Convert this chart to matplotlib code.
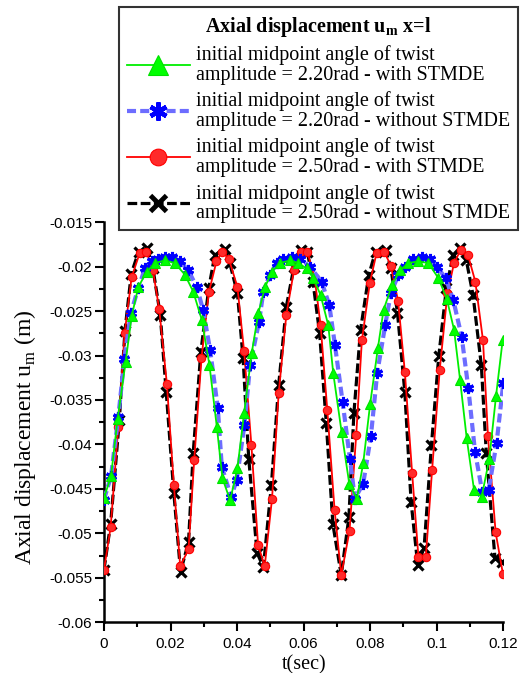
import matplotlib
matplotlib.use("Agg")
import matplotlib.pyplot as plt
from matplotlib.ticker import MultipleLocator, FuncFormatter

plt.rcParams['font.family'] = ['Liberation Serif', 'DejaVu Serif']
plt.rcParams['mathtext.fontset'] = 'custom'
plt.rcParams['mathtext.rm'] = 'Liberation Serif'
plt.rcParams['mathtext.bf'] = 'Liberation Serif:bold'
plt.rcParams['axes.unicode_minus'] = False
plt.rcParams['lines.scale_dashes'] = False

# values: t in sec, axial displacement u_m in m
# 2.20rad - with STMDE
t_g = [0.0000, 0.0021, 0.0041, 0.0065, 0.0083, 0.0103, 0.0128, 0.0153, 0.0183,
       0.0213, 0.0243, 0.0268, 0.0294, 0.0317, 0.0339, 0.0356, 0.0379, 0.0401,
       0.0421, 0.0444, 0.0464, 0.0484, 0.0504, 0.0529, 0.0559, 0.0584, 0.0609,
       0.0629, 0.0651, 0.0674, 0.0689, 0.0714, 0.0737, 0.0760, 0.0779, 0.0800,
       0.0823, 0.0840, 0.0865, 0.0890, 0.0915, 0.0945, 0.0975, 0.1005, 0.1030,
       0.1052, 0.1070, 0.1090, 0.1112, 0.1135, 0.1158, 0.1178, 0.1198]
u_g = [-0.0460, -0.0436, -0.0371, -0.0307, -0.0256, -0.0223, -0.0206, -0.0196, -0.0193,
       -0.0196, -0.0209, -0.0228, -0.0260, -0.0311, -0.0380, -0.0438, -0.0463, -0.0427,
       -0.0365, -0.0297, -0.0252, -0.0223, -0.0206, -0.0196, -0.0193, -0.0196, -0.0202,
       -0.0213, -0.0232, -0.0266, -0.0320, -0.0386, -0.0444, -0.0461, -0.0421, -0.0354,
       -0.0292, -0.0249, -0.0221, -0.0204, -0.0196, -0.0194, -0.0196, -0.0213, -0.0236,
       -0.0271, -0.0327, -0.0393, -0.0451, -0.0459, -0.0416, -0.0346, -0.0283]

# 2.20rad - without STMDE
t_b = [0.0000, 0.0021, 0.0043, 0.0061, 0.0081, 0.0103, 0.0123, 0.0143, 0.0163,
       0.0183, 0.0205, 0.0228, 0.0253, 0.0279, 0.0298, 0.0319, 0.0342, 0.0354,
       0.0382, 0.0399, 0.0422, 0.0439, 0.0466, 0.0479, 0.0499, 0.0519, 0.0539,
       0.0564, 0.0589, 0.0619, 0.0654, 0.0677, 0.0694, 0.0717, 0.0739, 0.0754,
       0.0779, 0.0802, 0.0821, 0.0845, 0.0862, 0.0885, 0.0905, 0.0930, 0.0955,
       0.0980, 0.1000, 0.1027, 0.1050, 0.1075, 0.1095, 0.1115, 0.1137, 0.1156,
       0.1180, 0.1200]
u_b = [-0.0462, -0.0436, -0.0369, -0.0304, -0.0252, -0.0224, -0.0202, -0.0194, -0.0191,
       -0.0189, -0.0189, -0.0194, -0.0204, -0.0223, -0.0249, -0.0294, -0.0359, -0.0425,
       -0.0459, -0.0440, -0.0378, -0.0311, -0.0262, -0.0228, -0.0209, -0.0196, -0.0191,
       -0.0189, -0.0191, -0.0200, -0.0217, -0.0243, -0.0288, -0.0352, -0.0416, -0.0461,
       -0.0444, -0.0391, -0.0320, -0.0266, -0.0230, -0.0209, -0.0200, -0.0191, -0.0189,
       -0.0191, -0.0200, -0.0213, -0.0238, -0.0279, -0.0337, -0.0408, -0.0454, -0.0451,
       -0.0398, -0.0331]

# 2.50rad - with STMDE
t_r = [0.0000, 0.0020, 0.0043, 0.0062, 0.0083, 0.0107, 0.0127, 0.0147, 0.0166,
       0.0189, 0.0210, 0.0229, 0.0254, 0.0271, 0.0293, 0.0315, 0.0338, 0.0355,
       0.0375, 0.0401, 0.0421, 0.0443, 0.0463, 0.0483, 0.0505, 0.0525, 0.0548,
       0.0571, 0.0591, 0.0611, 0.0633, 0.0651, 0.0671, 0.0693, 0.0713, 0.0738,
       0.0758, 0.0775, 0.0799, 0.0819, 0.0842, 0.0862, 0.0884, 0.0904, 0.0926,
       0.0945, 0.0967, 0.0986, 0.1009, 0.1032, 0.1052, 0.1072, 0.1094, 0.1116,
       0.1139, 0.1154, 0.1177, 0.1199]
u_r = [-0.0541, -0.0493, -0.0380, -0.0275, -0.0212, -0.0185, -0.0183, -0.0204, -0.0248,
       -0.0332, -0.0446, -0.0537, -0.0518, -0.0418, -0.0303, -0.0229, -0.0194, -0.0183,
       -0.0191, -0.0223, -0.0295, -0.0401, -0.0513, -0.0537, -0.0461, -0.0342, -0.0254,
       -0.0204, -0.0183, -0.0183, -0.0213, -0.0266, -0.0361, -0.0474, -0.0547, -0.0497,
       -0.0389, -0.0283, -0.0218, -0.0185, -0.0183, -0.0199, -0.0239, -0.0318, -0.0432,
       -0.0527, -0.0527, -0.0429, -0.0316, -0.0230, -0.0196, -0.0181, -0.0187, -0.0217,
       -0.0283, -0.0391, -0.0499, -0.0546]

# 2.50rad - without STMDE
t_k = [0.0000, 0.0020, 0.0046, 0.0063, 0.0082, 0.0104, 0.0130, 0.0147, 0.0169,
       0.0187, 0.0210, 0.0230, 0.0254, 0.0268, 0.0291, 0.0315, 0.0333, 0.0363,
       0.0378, 0.0401, 0.0418, 0.0435, 0.0460, 0.0479, 0.0503, 0.0525, 0.0548,
       0.0571, 0.0593, 0.0611, 0.0628, 0.0648, 0.0668, 0.0688, 0.0713, 0.0736,
       0.0751, 0.0771, 0.0796, 0.0816, 0.0846, 0.0862, 0.0882, 0.0904, 0.0923,
       0.0943, 0.0962, 0.0984, 0.1006, 0.1029, 0.1049, 0.1069, 0.1089, 0.1109,
       0.1134, 0.1149, 0.1175, 0.1195]
u_k = [-0.0541, -0.0489, -0.0373, -0.0272, -0.0208, -0.0183, -0.0179, -0.0202, -0.0254,
       -0.0341, -0.0455, -0.0543, -0.0510, -0.0410, -0.0296, -0.0224, -0.0187, -0.0180,
       -0.0196, -0.0230, -0.0303, -0.0416, -0.0522, -0.0538, -0.0446, -0.0333, -0.0245,
       -0.0200, -0.0181, -0.0183, -0.0217, -0.0275, -0.0376, -0.0490, -0.0547, -0.0482,
       -0.0365, -0.0271, -0.0209, -0.0183, -0.0181, -0.0201, -0.0252, -0.0341, -0.0465,
       -0.0536, -0.0516, -0.0401, -0.0301, -0.0224, -0.0187, -0.0179, -0.0193, -0.0232,
       -0.0311, -0.0410, -0.0528, -0.0532]

lab_first = "initial midpoint angle of twist\namplitude = "
labels = [lab_first + "2.20rad - with STMDE",
          lab_first + "2.20rad - without STMDE",
          lab_first + "2.50rad - with STMDE",
          lab_first + "2.50rad - without STMDE"]

fig = plt.figure(figsize=(5.23, 6.73), dpi=100)
ax = fig.add_axes([104 / 523, 1 - 622.2 / 673, 399.3 / 523, 400 / 673])

lk, = ax.plot(t_k, u_k, color='black', lw=2.3, ls='--', dashes=(7, 2.5),
              marker='x', ms=7, mew=2.3, mec='black', zorder=2)
lr, = ax.plot(t_r, u_r, color='#ff0000', lw=1.3, marker='o', ms=6,
              mfc='#ff2a2a', mec='#ff0000', mew=0.8, zorder=3)
lb, = ax.plot(t_b, u_b, color='#6d6dff', lw=3.0, ls='--', dashes=(6.5, 3),
              marker=(6, 2, 0), ms=8, mew=2.2, mec='#0000ff', zorder=4)
lg, = ax.plot(t_g, u_g, color='#00ee00', lw=1.3, marker='^', ms=7,
              mfc='#00ff00', mec='#00e000', mew=0.8, zorder=5)

ax.set_xlim(0, 0.12)
ax.set_ylim(-0.06, -0.015)
ax.xaxis.set_major_locator(MultipleLocator(0.02))
ax.xaxis.set_minor_locator(MultipleLocator(0.01))
ax.yaxis.set_major_locator(MultipleLocator(0.005))
ax.yaxis.set_minor_locator(MultipleLocator(0.0025))
fmt = FuncFormatter(lambda v, p: '%g' % round(v, 6))
ax.xaxis.set_major_formatter(fmt)
ax.yaxis.set_major_formatter(fmt)

for s in ['top', 'right']:
    ax.spines[s].set_visible(False)
for s in ['left', 'bottom']:
    ax.spines[s].set_linewidth(1.8)
ax.tick_params(which='major', direction='out', length=6.5, width=1.5, pad=2,
               labelsize=11)
ax.tick_params(axis='x', which='major', pad=4)
ax.tick_params(which='minor', direction='out', length=3.6, width=1.5)
for tl in ax.get_xticklabels() + ax.get_yticklabels():
    tl.set_fontfamily('Liberation Sans')

ax.set_xlabel('t(sec)', fontsize=14.5, labelpad=3)
ax.set_ylabel(r'Axial displacement u$_{\mathrm{m}}$ (m)', fontsize=17)
ax.yaxis.set_label_coords(-0.165, 0.462)

leg = ax.legend([lg, lb, lr, lk], labels, loc='upper left',
                bbox_to_anchor=(119 / 523, 1 - 7 / 673), bbox_transform=fig.transFigure,
                title=r'Axial displacement u$_{\mathbf{m}}$ x=l',
                title_fontproperties={'weight': 'bold', 'size': 14.5},
                fontsize=14.5, numpoints=1, handlelength=3.15,
                handletextpad=0.3, borderpad=0.38, labelspacing=0.34,
                frameon=True, fancybox=False, borderaxespad=0)
leg.get_frame().set_edgecolor('black')
leg.get_frame().set_linewidth(1.5)
leg.set_zorder(10)
for t in leg.get_texts():
    t.set_linespacing(1.02)
# bigger symbols in the legend, as in the original key
for h, ms, mw in zip(leg.legend_handles, [14, 13, 12, 11], [0.8, 3.2, 0.8, 3.5]):
    h.set_markersize(ms)
    h.set_markeredgewidth(mw)

fig.savefig('out.png', dpi=100)
